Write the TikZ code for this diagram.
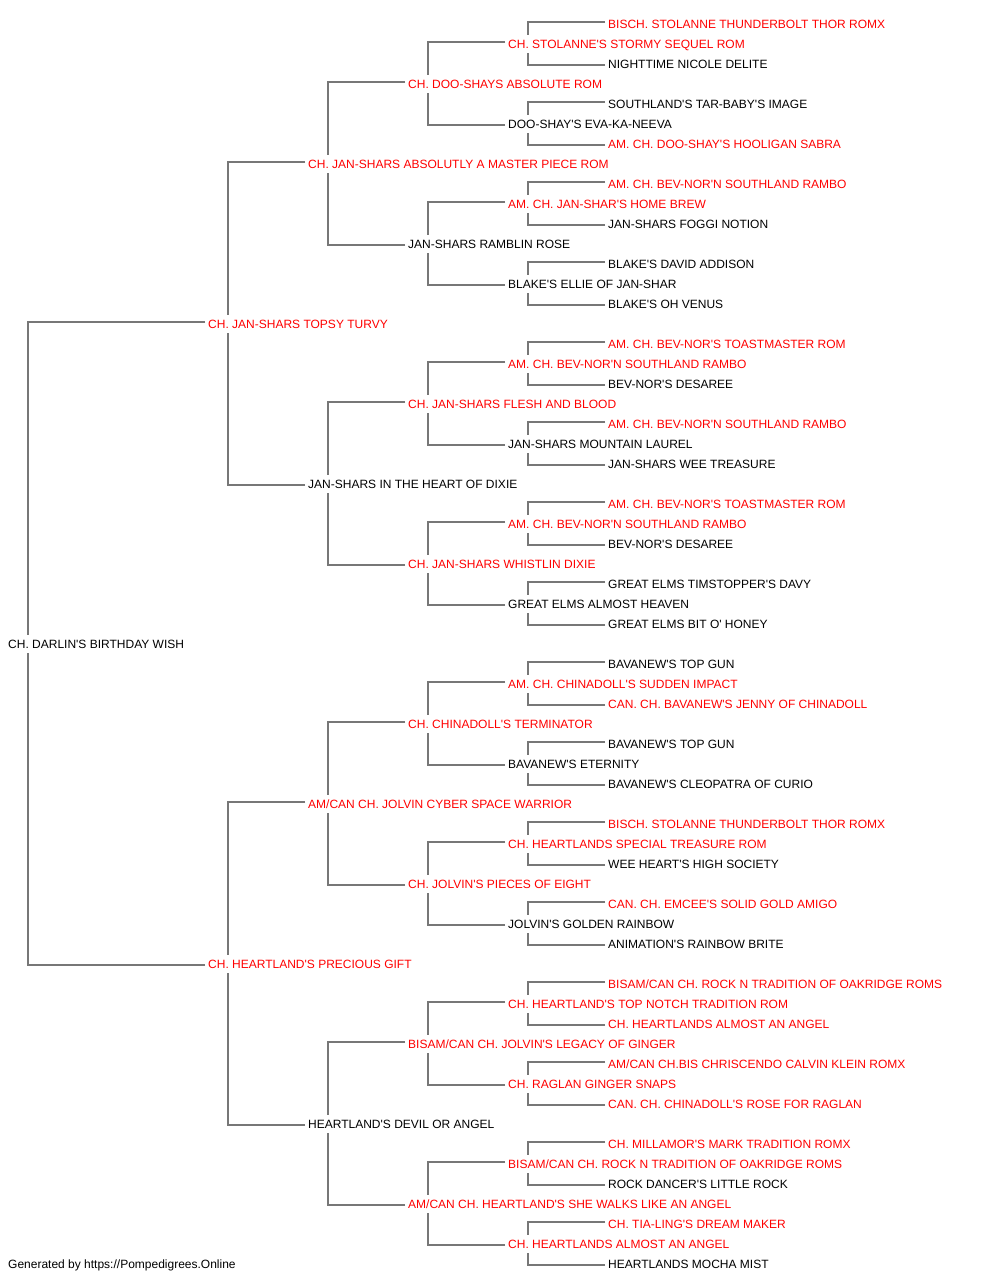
\documentclass[tikz,border=0pt]{standalone}
\usepackage{fontspec}
\setmainfont{Liberation Sans}[Ligatures=TeXOff]
\definecolor{pedred}{RGB}{255,0,0}
\definecolor{pedline}{RGB}{119,119,119}
\begin{document}
\begin{tikzpicture}[x=1pt,y=-1pt,
  every node/.style={anchor=west, inner xsep=3pt, inner ysep=4.5pt, text height=8.6pt, text depth=0pt, font=\fontsize{12}{14}\selectfont},
  tred/.style={text=pedred},
  tblk/.style={text=black},
  link/.style={draw=pedline, line width=1.3pt}]
\fill[white] (0,0) rectangle (1000,1280);
\useasboundingbox (0,0) rectangle (1000,1280);
% generation 0
\node[tblk] (n1) at (5,644) {CH. DARLIN'S BIRTHDAY WISH};
% generation 1
\node[tred] (n2) at (205,324) {CH. JAN-SHARS TOPSY TURVY};
\node[tred] (n3) at (205,964) {CH. HEARTLAND'S PRECIOUS GIFT};
% generation 2
\node[tred] (n4) at (305,164) {CH. JAN-SHARS ABSOLUTLY A MASTER PIECE ROM};
\node[tblk] (n5) at (305,484) {JAN-SHARS IN THE HEART OF DIXIE};
\node[tred] (n6) at (305,804) {AM/CAN CH. JOLVIN CYBER SPACE WARRIOR};
\node[tblk] (n7) at (305,1124) {HEARTLAND'S DEVIL OR ANGEL};
% generation 3
\node[tred] (n8) at (405,84) {CH. DOO-SHAYS ABSOLUTE ROM};
\node[tblk] (n9) at (405,244) {JAN-SHARS RAMBLIN ROSE};
\node[tred] (n10) at (405,404) {CH. JAN-SHARS FLESH AND BLOOD};
\node[tred] (n11) at (405,564) {CH. JAN-SHARS WHISTLIN DIXIE};
\node[tred] (n12) at (405,724) {CH. CHINADOLL'S TERMINATOR};
\node[tred] (n13) at (405,884) {CH. JOLVIN'S PIECES OF EIGHT};
\node[tred] (n14) at (405,1044) {BISAM/CAN CH. JOLVIN'S LEGACY OF GINGER};
\node[tred] (n15) at (405,1204) {AM/CAN CH. HEARTLAND'S SHE WALKS LIKE AN ANGEL};
% generation 4
\node[tred] (n16) at (505,44) {CH. STOLANNE'S STORMY SEQUEL ROM};
\node[tblk] (n17) at (505,124) {DOO-SHAY'S EVA-KA-NEEVA};
\node[tred] (n18) at (505,204) {AM. CH. JAN-SHAR'S HOME BREW};
\node[tblk] (n19) at (505,284) {BLAKE'S ELLIE OF JAN-SHAR};
\node[tred] (n20) at (505,364) {AM. CH. BEV-NOR'N SOUTHLAND RAMBO};
\node[tblk] (n21) at (505,444) {JAN-SHARS MOUNTAIN LAUREL};
\node[tred] (n22) at (505,524) {AM. CH. BEV-NOR'N SOUTHLAND RAMBO};
\node[tblk] (n23) at (505,604) {GREAT ELMS ALMOST HEAVEN};
\node[tred] (n24) at (505,684) {AM. CH. CHINADOLL'S SUDDEN IMPACT};
\node[tblk] (n25) at (505,764) {BAVANEW'S ETERNITY};
\node[tred] (n26) at (505,844) {CH. HEARTLANDS SPECIAL TREASURE ROM};
\node[tblk] (n27) at (505,924) {JOLVIN'S GOLDEN RAINBOW};
\node[tred] (n28) at (505,1004) {CH. HEARTLAND'S TOP NOTCH TRADITION ROM};
\node[tred] (n29) at (505,1084) {CH. RAGLAN GINGER SNAPS};
\node[tred] (n30) at (505,1164) {BISAM/CAN CH. ROCK N TRADITION OF OAKRIDGE ROMS};
\node[tred] (n31) at (505,1244) {CH. HEARTLANDS ALMOST AN ANGEL};
% generation 5
\node[tred] (n32) at (605,24) {BISCH. STOLANNE THUNDERBOLT THOR ROMX};
\node[tblk] (n33) at (605,64) {NIGHTTIME NICOLE DELITE};
\node[tblk] (n34) at (605,104) {SOUTHLAND'S TAR-BABY'S IMAGE};
\node[tred] (n35) at (605,144) {AM. CH. DOO-SHAY'S HOOLIGAN SABRA};
\node[tred] (n36) at (605,184) {AM. CH. BEV-NOR'N SOUTHLAND RAMBO};
\node[tblk] (n37) at (605,224) {JAN-SHARS FOGGI NOTION};
\node[tblk] (n38) at (605,264) {BLAKE'S DAVID ADDISON};
\node[tblk] (n39) at (605,304) {BLAKE'S OH VENUS};
\node[tred] (n40) at (605,344) {AM. CH. BEV-NOR'S TOASTMASTER ROM};
\node[tblk] (n41) at (605,384) {BEV-NOR'S DESAREE};
\node[tred] (n42) at (605,424) {AM. CH. BEV-NOR'N SOUTHLAND RAMBO};
\node[tblk] (n43) at (605,464) {JAN-SHARS WEE TREASURE};
\node[tred] (n44) at (605,504) {AM. CH. BEV-NOR'S TOASTMASTER ROM};
\node[tblk] (n45) at (605,544) {BEV-NOR'S DESAREE};
\node[tblk] (n46) at (605,584) {GREAT ELMS TIMSTOPPER'S DAVY};
\node[tblk] (n47) at (605,624) {GREAT ELMS BIT O' HONEY};
\node[tblk] (n48) at (605,664) {BAVANEW'S TOP GUN};
\node[tred] (n49) at (605,704) {CAN. CH. BAVANEW'S JENNY OF CHINADOLL};
\node[tblk] (n50) at (605,744) {BAVANEW'S TOP GUN};
\node[tblk] (n51) at (605,784) {BAVANEW'S CLEOPATRA OF CURIO};
\node[tred] (n52) at (605,824) {BISCH. STOLANNE THUNDERBOLT THOR ROMX};
\node[tblk] (n53) at (605,864) {WEE HEART'S HIGH SOCIETY};
\node[tred] (n54) at (605,904) {CAN. CH. EMCEE'S SOLID GOLD AMIGO};
\node[tblk] (n55) at (605,944) {ANIMATION'S RAINBOW BRITE};
\node[tred] (n56) at (605,984) {BISAM/CAN CH. ROCK N TRADITION OF OAKRIDGE ROMS};
\node[tred] (n57) at (605,1024) {CH. HEARTLANDS ALMOST AN ANGEL};
\node[tred] (n58) at (605,1064) {AM/CAN CH.BIS CHRISCENDO CALVIN KLEIN ROMX};
\node[tred] (n59) at (605,1104) {CAN. CH. CHINADOLL'S ROSE FOR RAGLAN};
\node[tred] (n60) at (605,1144) {CH. MILLAMOR'S MARK TRADITION ROMX};
\node[tblk] (n61) at (605,1184) {ROCK DANCER'S LITTLE ROCK};
\node[tred] (n62) at (605,1224) {CH. TIA-LING'S DREAM MAKER};
\node[tblk] (n63) at (605,1264) {HEARTLANDS MOCHA MIST};
% footer
\node[tblk] (foot) at (5,1264) {Generated by https://Pompedigrees.Online};
% connectors
\foreach \k in {1,...,31} {
  \pgfmathtruncatemacro\sire{2*\k}
  \pgfmathtruncatemacro\dam{2*\k+1}
  \draw[link] ([yshift=2pt]n\sire.west) -| ([xshift=23pt]n\k.north west);
  \draw[link] ([yshift=-1pt]n\dam.west) -| ([xshift=23pt]n\k.south west);
}
\end{tikzpicture}
\end{document}
